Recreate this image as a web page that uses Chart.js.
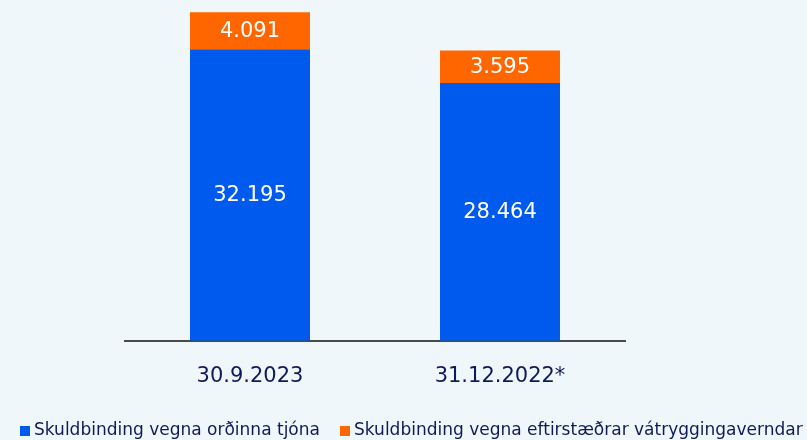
<!DOCTYPE html>
<html>
<head>
<meta charset="utf-8">
<script src="https://cdn.jsdelivr.net/npm/chart.js@4"></script>
<style>
  html, body { margin: 0; padding: 0; background: #f0f7fa; }
  #wrap { position: relative; width: 807px; height: 440px; overflow: hidden; }
  #legend { position: absolute; left: 0; top: 418px; width: 807px; height: 22px;
            font-family: "DejaVu Sans", sans-serif; font-size: 17px; color: #0f1a5a; }
  .item { position: absolute; top: 0; white-space: nowrap; line-height: 22px; }
  .box { display: inline-block; width: 10px; height: 10px; margin-right: 4px; vertical-align: -1px; }
</style>
</head>
<body>
<div id="wrap">
  <canvas id="chart" width="807" height="440"></canvas>
  <div id="legend"></div>
</div>
<script>
const categories = ['30.9.2023', '31.12.2022*'];
const incurredClaims = [32195, 28464];
const remainingCoverage = [4091, 3595];
const seriesNames = [
    'Skuldbinding vegna orðinna tjóna',
    'Skuldbinding vegna eftirstæðrar vátryggingaverndar'
];
const seriesColors = ['#005aee', '#ff6600'];

const textColor = '#0f1a5a';
const fontFamily = '"DejaVu Sans", sans-serif';

const formatIs = (value) => Number(value).toLocaleString('de-DE');

const barLabels = {
    id: 'barLabels',
    afterDatasetsDraw(chart) {
        const { ctx } = chart;
        ctx.save();
        ctx.fillStyle = '#ffffff';
        ctx.font = `21px ${fontFamily}`;
        ctx.textAlign = 'center';
        ctx.textBaseline = 'middle';
        chart.data.datasets.forEach((ds, di) => {
            chart.getDatasetMeta(di).data.forEach((bar, i) => {
                const mid = (bar.y + bar.base) / 2;
                ctx.fillText(formatIs(ds.data[i]), bar.x, mid + 1);
            });
        });
        ctx.restore();
    }
};

// legend in HTML, placed like the original (left-aligned pair)
const legendLefts = [20, 340];
const legendEl = document.getElementById('legend');
seriesNames.forEach((name, i) => {
    const item = document.createElement('span');
    item.className = 'item';
    item.style.left = legendLefts[i] + 'px';
    const box = document.createElement('span');
    box.className = 'box';
    box.style.background = seriesColors[i];
    item.appendChild(box);
    item.appendChild(document.createTextNode(name));
    legendEl.appendChild(item);
});

new Chart(document.getElementById('chart'), {
    type: 'bar',
    data: {
        labels: categories,
        datasets: [
            {
                label: seriesNames[0],
                data: incurredClaims,
                backgroundColor: seriesColors[0]
            },
            {
                label: seriesNames[1],
                data: remainingCoverage,
                backgroundColor: seriesColors[1]
            }
        ]
    },
    options: {
        responsive: false,
        animation: false,
        layout: { padding: { top: 12, bottom: 36, left: 0, right: 0 } },
        datasets: {
            bar: { categoryPercentage: 1, barPercentage: 0.48 }
        },
        scales: {
            x: {
                stacked: true,
                grid: { display: false },
                border: { display: true, color: '#4a4a4a', width: 2 },
                ticks: {
                    color: textColor,
                    font: { family: fontFamily, size: 21 },
                    padding: 15
                }
            },
            y: {
                stacked: true,
                min: 0,
                max: 36300,
                display: true,
                grid: { display: false },
                border: { display: false },
                ticks: { display: false },
                afterFit: (axis) => { axis.width = 125; }
            },
            yRight: {
                position: 'right',
                display: true,
                grid: { display: false },
                border: { display: false },
                ticks: { display: false },
                afterFit: (axis) => { axis.width = 182; }
            }
        },
        plugins: {
            legend: { display: false },
            tooltip: { enabled: false }
        }
    },
    plugins: [barLabels]
});
</script>
</body>
</html>
